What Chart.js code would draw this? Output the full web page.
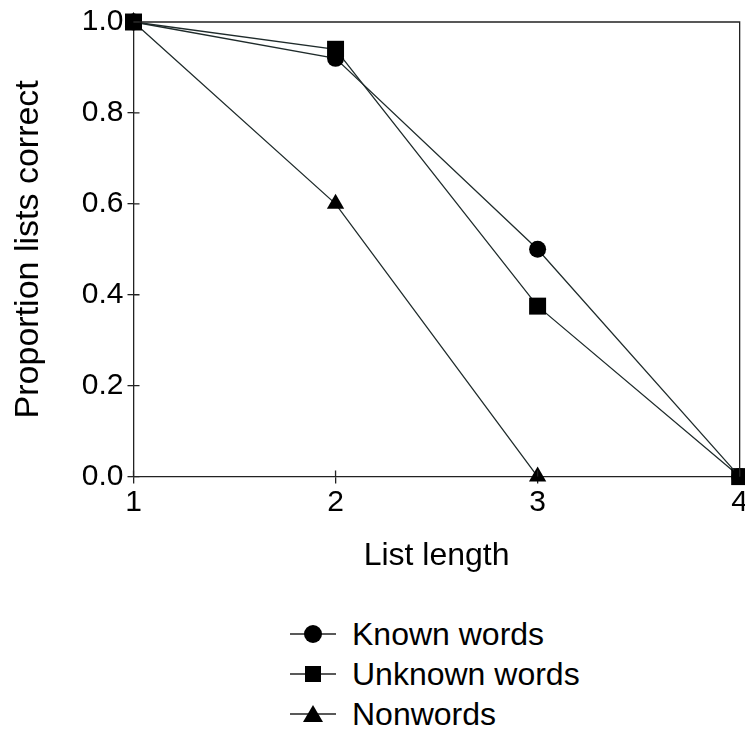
<!DOCTYPE html>
<html>
<head>
<meta charset="utf-8">
<script src="https://cdn.jsdelivr.net/npm/chart.js@4.4.1/dist/chart.umd.min.js"></script>
<style>
  body { margin: 0; background: #fff; font-family: "Liberation Sans", Arial, sans-serif; overflow: hidden; }
  #wrap { position: relative; width: 752px; height: 575px; }
  #legend { position: absolute; left: 290px; top: 614px; }
  .item { height: 40px; display: flex; align-items: center; font-size: 32px; color: #000; }
  .item svg { margin-right: 16px; }
</style>
</head>
<body>
<div id="wrap"><canvas id="lineChart"></canvas></div>
<div id="legend"></div>
<script>
const listLengths = [1, 2, 3, 4];
const knownWords = [1.0, 0.92, 0.5, 0.0];
const unknownWords = [1.0, 0.94, 0.375, 0.0];
const nonwords = [1.0, 0.6, 0.0, null];

const seriesNames = ['Known words', 'Unknown words', 'Nonwords'];
const seriesMarks = ['circle', 'rect', 'triangle'];
const yTicks = [0, 0.2, 0.4, 0.6, 0.8, 1.0];

const lineColor = '#1f2b2b';

function toPoints(vals) {
  return listLengths.map((x, i) => ({ x: x, y: vals[i] }));
}

// box round the plot and ticks that cross the axes
const framePlugin = {
  id: 'frame',
  afterDraw(chart) {
    const ctx = chart.ctx;
    const a = chart.chartArea;
    const xs = chart.scales.x, ys = chart.scales.y;
    ctx.save();
    ctx.strokeStyle = '#222';
    ctx.lineWidth = 1.3;
    ctx.beginPath();
    ctx.moveTo(a.left, a.top);
    ctx.lineTo(a.right, a.top);
    ctx.lineTo(a.right, a.bottom);
    ctx.stroke();
    ctx.beginPath();
    xs.ticks.forEach(t => {
      const px = xs.getPixelForValue(t.value);
      ctx.moveTo(px, a.bottom);
      ctx.lineTo(px, a.bottom - 6);
    });
    ys.ticks.forEach(t => {
      const py = ys.getPixelForValue(t.value);
      ctx.moveTo(a.left, py);
      ctx.lineTo(a.left + 6, py);
    });
    ctx.stroke();
    ctx.restore();
  }
};

function createLineChart() {
  const ctx = document.getElementById('lineChart');
  const sets = [knownWords, unknownWords, nonwords];
  const chart = new Chart(ctx, {
    type: 'line',
    data: {
      datasets: sets.map((vals, i) => ({
        label: seriesNames[i],
        data: toPoints(vals),
        borderColor: lineColor,
        borderWidth: 1.3,
        backgroundColor: '#000',
        pointBackgroundColor: '#000',
        pointBorderColor: '#000',
        pointBorderWidth: 0,
        pointStyle: seriesMarks[i],
        pointRadius: [8.5, 12, 10][i],
        tension: 0,
        clip: false,
        spanGaps: false
      }))
    },
    options: {
      responsive: true,
      maintainAspectRatio: false,
      animation: false,
      layout: { padding: { left: 2, right: 5, top: 12, bottom: 0 } },
      plugins: {
        legend: { display: false },
        tooltip: { enabled: false }
      },
      scales: {
        x: {
          type: 'linear',
          min: 1, max: 4,
          afterBuildTicks: s => { s.ticks = listLengths.map(v => ({ value: v })); },
          grid: { drawOnChartArea: false, tickLength: 7, color: '#222', lineWidth: 1.3 },
          border: { color: '#222', width: 1.3 },
          ticks: { color: '#000', font: { family: 'Liberation Sans', size: 30, lineHeight: 1.0 }, padding: 4, maxRotation: 0 },
          title: { display: true, text: 'List length', color: '#000', font: { family: 'Liberation Sans', size: 32 }, padding: { top: 15, bottom: 0 } }
        },
        y: {
          min: 0, max: 1,
          afterBuildTicks: s => { s.ticks = yTicks.map(v => ({ value: v })); },
          grid: { drawOnChartArea: false, tickLength: 6, color: '#222', lineWidth: 1.3 },
          border: { color: '#222', width: 1.3 },
          ticks: { color: '#000', font: { family: 'Liberation Sans', size: 30 }, padding: 4, callback: v => v.toFixed(1) },
          title: { display: true, text: 'Proportion lists correct', color: '#000', font: { family: 'Liberation Sans', size: 34 }, padding: { top: 6, bottom: 29 } }
        }
      }
    },
    plugins: [framePlugin]
  });
  return chart;
}

function buildLegend() {
  const icons = [
    '<circle cx="23" cy="10" r="9" fill="#000"/>',
    '<rect x="15" y="2" width="16" height="16" fill="#000"/>',
    '<polygon points="23,1 33,18 13,18" fill="#000"/>'
  ];
  const box = document.getElementById('legend');
  seriesNames.forEach((name, i) => {
    const row = document.createElement('div');
    row.className = 'item';
    row.innerHTML = '<svg width="46" height="20"><line x1="0" y1="10" x2="46" y2="10" stroke="#222" stroke-width="1.3"/>' +
      icons[i] + '</svg><span>' + name + '</span>';
    box.appendChild(row);
  });
}

createLineChart();
buildLegend();
</script>
</body>
</html>
